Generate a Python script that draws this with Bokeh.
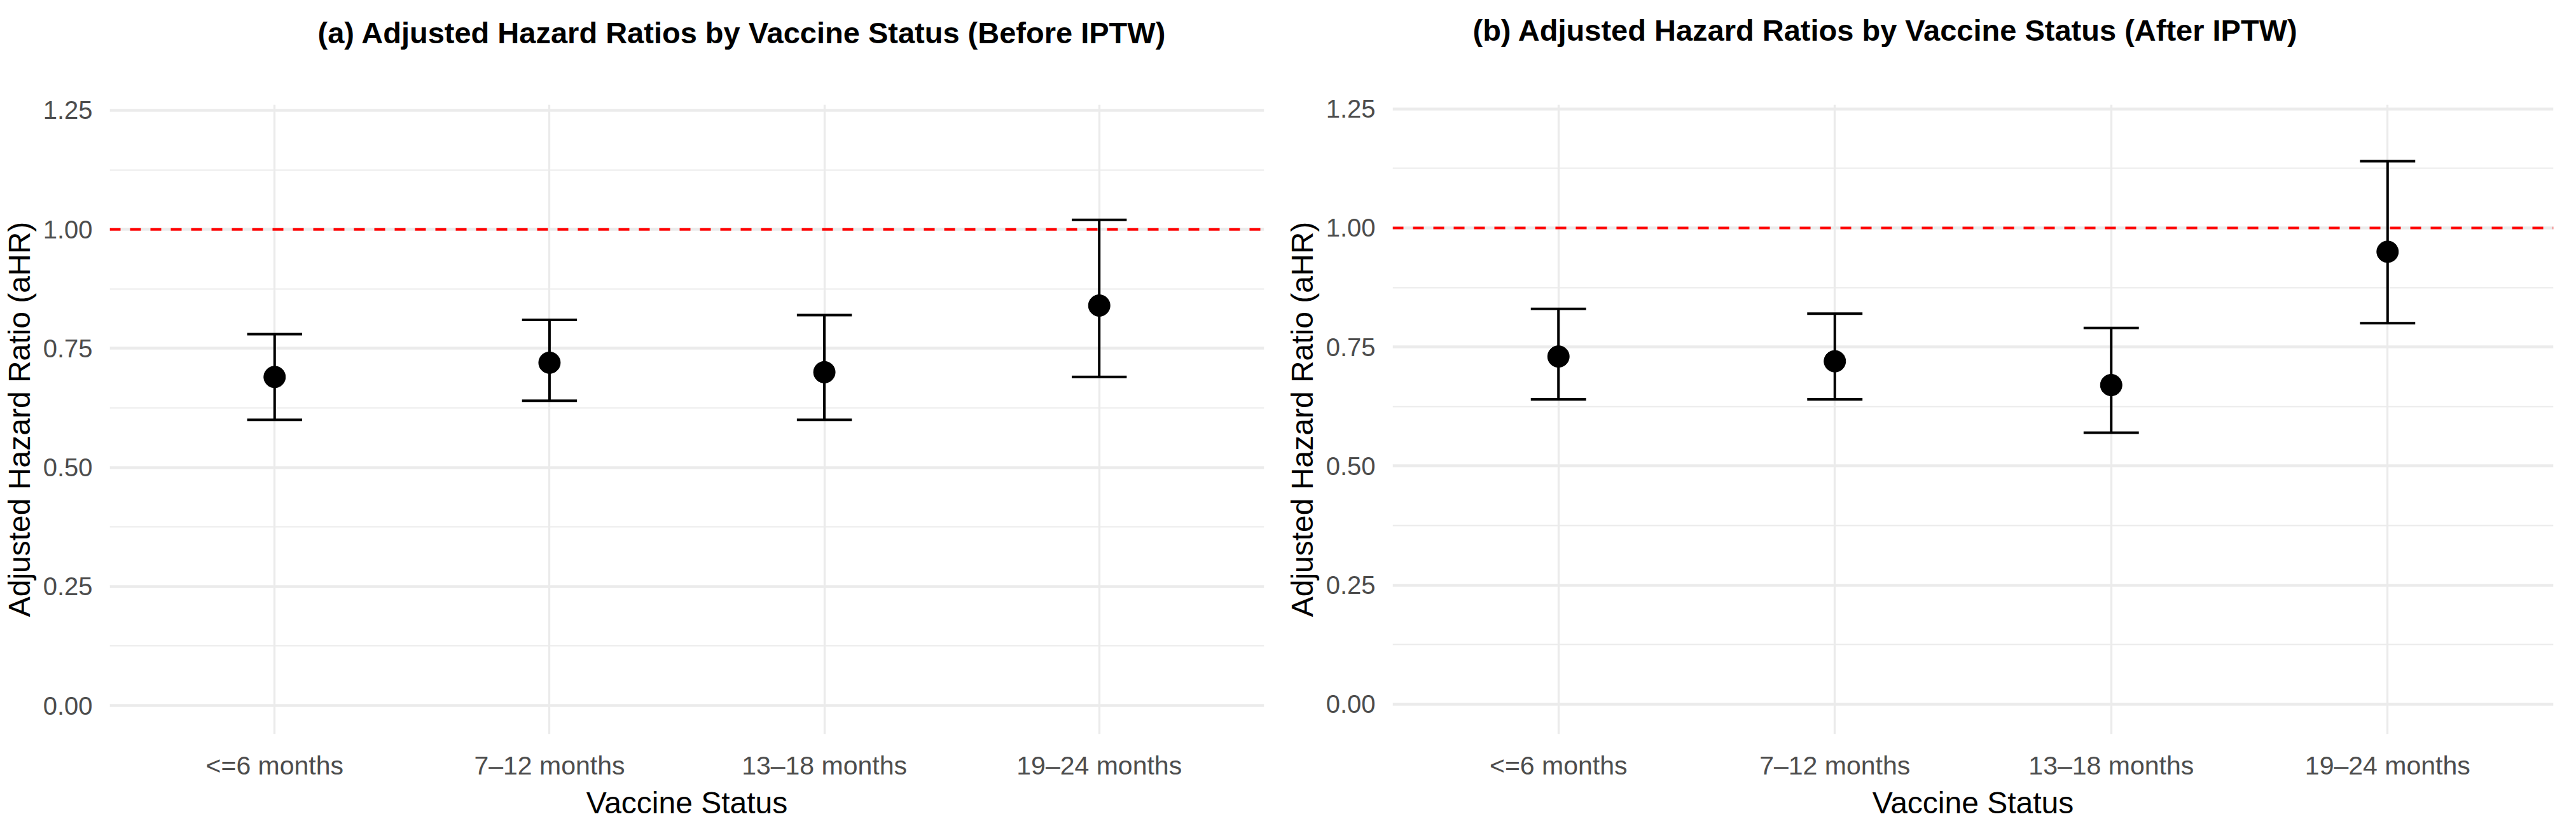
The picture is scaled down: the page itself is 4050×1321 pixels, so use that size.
from bokeh.plotting import figure
from bokeh.models import (ColumnDataSource, FactorRange, Range1d, Span, Title,
                          FixedTicker, PrintfTickFormatter)
from bokeh.transform import dodge
from bokeh.layouts import row
from bokeh.embed import file_html
from bokeh.resources import INLINE

# ---------------- data ----------------
categories = ["<=6 months", "7\u201312 months", "13\u201318 months", "19\u201324 months"]

before_ahr = [0.69, 0.72, 0.70, 0.84]
before_lower = [0.60, 0.64, 0.60, 0.69]
before_upper = [0.78, 0.81, 0.82, 1.02]

after_ahr = [0.73, 0.72, 0.67, 0.95]
after_lower = [0.64, 0.64, 0.57, 0.80]
after_upper = [0.83, 0.82, 0.79, 1.14]

y_ticks = [0.0, 0.25, 0.50, 0.75, 1.00, 1.25]
y_minor_ticks = [0.125, 0.375, 0.625, 0.875, 1.125]
reference_hr = 1.0

title_a = "(a) Adjusted Hazard Ratios by Vaccine Status (Before IPTW)"
title_b = "(b) Adjusted Hazard Ratios by Vaccine Status (After IPTW)"
x_title = "Vaccine Status"
y_title = "Adjusted Hazard Ratio (aHR)"

FONT = "Liberation Sans"
GRID = "#ebebeb"


def make_panel(title, ahr, lower, upper, width, height, b_left, b_right,
               b_top, b_bottom, y_start, y_end, title_offset, spacer_standoff):
    src = ColumnDataSource(dict(cat=categories, ahr=ahr, lower=lower, upper=upper))
    p = figure(
        x_range=FactorRange(*categories, range_padding=0.1,
                            range_padding_units="absolute"),
        y_range=Range1d(y_start, y_end),
        width=width, height=height,
        output_backend="svg", toolbar_location=None,
        min_border_left=b_left, min_border_right=b_right,
        min_border_top=b_top, min_border_bottom=b_bottom,
    )
    p.outline_line_color = None
    p.background_fill_color = "white"
    p.border_fill_color = "white"

    # titles: spacer (closest to frame) then real title above it
    spacer = Title(text=" ", text_font_size="10px", standoff=spacer_standoff)
    p.add_layout(spacer, "above")
    t = Title(text=title, align="left", offset=title_offset,
              text_font=FONT, text_font_size="47px", text_font_style="bold",
              text_color="black", standoff=0)
    p.add_layout(t, "above")

    ticker = FixedTicker(ticks=y_ticks, minor_ticks=y_minor_ticks)
    p.yaxis.ticker = ticker
    p.ygrid.ticker = ticker
    p.yaxis.formatter = PrintfTickFormatter(format="%.2f")

    p.xgrid.grid_line_color = GRID
    p.xgrid.grid_line_width = 3.3
    p.ygrid.grid_line_color = GRID
    p.ygrid.grid_line_width = 4.5
    p.ygrid.minor_grid_line_color = GRID
    p.ygrid.minor_grid_line_width = 2.2

    for ax in (p.xaxis, p.yaxis):
        ax.axis_line_color = None
        ax.major_tick_line_color = None
        ax.minor_tick_line_color = None
        ax.major_label_text_font = FONT
        ax.major_label_text_color = "#4d4d4d"
        ax.axis_label_text_font = FONT
        ax.axis_label_text_font_size = "48px"
        ax.axis_label_text_font_style = "normal"
        ax.axis_label_text_color = "black"

    p.xaxis.axis_label = x_title
    p.xaxis.major_label_text_font_size = "41px"
    p.xaxis.major_label_standoff = 20
    p.xaxis.axis_label_standoff = 6

    p.yaxis.axis_label = y_title
    p.yaxis.major_label_text_font_size = "40px"
    p.yaxis.major_label_standoff = 21
    p.yaxis.axis_label_standoff = 8

    # reference line
    p.add_layout(Span(location=reference_hr, dimension="width",
                      line_color="#ff0000", line_width=4, line_dash="17 15"))

    # error bars
    p.segment(x0="cat", x1="cat", y0="lower", y1="upper", source=src,
              line_color="black", line_width=4)
    p.segment(x0=dodge("cat", -0.1, range=p.x_range),
              x1=dodge("cat", 0.1, range=p.x_range),
              y0="upper", y1="upper", source=src,
              line_color="black", line_width=4)
    p.segment(x0=dodge("cat", -0.1, range=p.x_range),
              x1=dodge("cat", 0.1, range=p.x_range),
              y0="lower", y1="lower", source=src,
              line_color="black", line_width=4)
    # point estimates
    p.scatter(x="cat", y="ahr", source=src, size=34,
              fill_color="black", line_color="black")
    return p


p1 = make_panel(title_a, before_ahr, before_lower, before_upper,
                width=2002, height=1305, b_left=170, b_right=15,
                b_top=160, b_bottom=151, y_start=-0.06, y_end=1.262,
                title_offset=327, spacer_standoff=74)
p2 = make_panel(title_b, after_ahr, after_lower, after_upper,
                width=2032, height=1305, b_left=187, b_right=20,
                b_top=164, b_bottom=136, y_start=-0.063, y_end=1.259,
                title_offset=126, spacer_standoff=78)

layout = row(p1, p2)
open("out.html", "w").write(file_html(layout, INLINE))
